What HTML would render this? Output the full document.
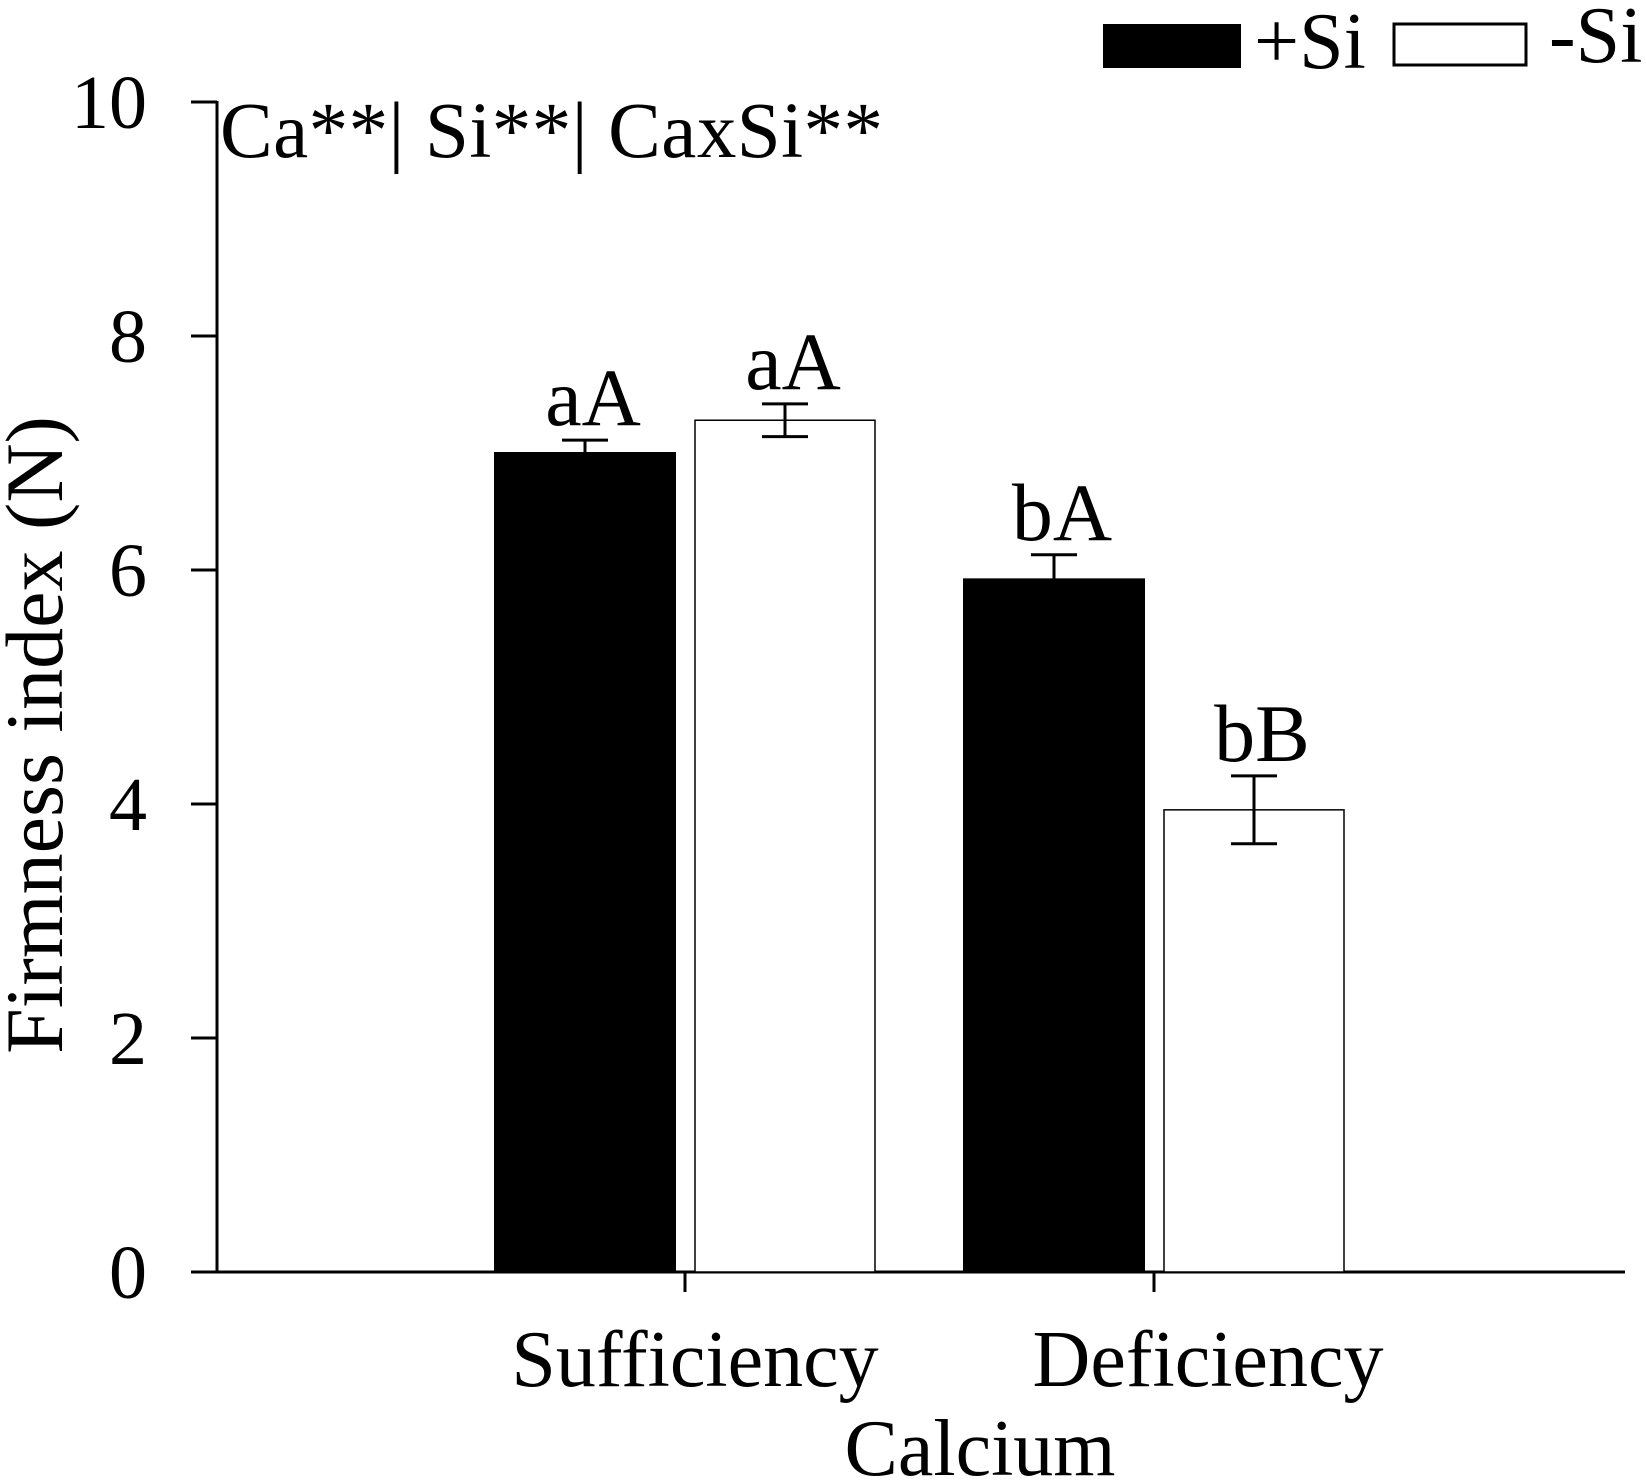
<!DOCTYPE html>
<html><head><meta charset="utf-8"><style>
body{margin:0;background:#fff;}
svg{display:block;font-family:"Liberation Serif",serif;}
</style></head><body>
<svg id="chart" width="1646" height="1484" viewBox="0 0 1646 1484">
<g id="g"></g>
<text x="220" y="157" font-size="79" textLength="663">Ca**| Si**| CaxSi**</text>
<text transform="translate(62,735) rotate(-90)" text-anchor="middle" font-size="82">Firmness index (N)</text>
<text x="980" y="1475" text-anchor="middle" font-size="80">Calcium</text>
<g>
<rect x="1103" y="24" width="138" height="44" fill="#000"/>
<text x="1254" y="68" font-size="80">+Si</text>
<rect x="1394" y="24" width="132" height="41" fill="#fff" stroke="#000" stroke-width="3"/>
<text x="1549" y="62" font-size="80">-Si</text>
</g>
</svg>
<script>
const categories = ["Sufficiency","Deficiency"];
const seriesNames = ["+Si","-Si"];
const plusSi = [7.0, 5.92];
const minusSi = [7.28, 3.95];
const plusSiErr = [0.11, 0.21];
const minusSiErr = [0.14, 0.29];
const plusSiLetters = ["aA","bA"];
const minusSiLetters = ["aA","bB"];
const yTicks = [0,2,4,6,8,10];

const NS="http://www.w3.org/2000/svg";
const g=document.getElementById('g');
const X0=217, Y0=1272, Y10=102;
function y(v){return Y0-(v/10)*(Y0-Y10);}
const groupCenters=[685,1154];
const barW=180, gap=20;
function barX(gi,si){return groupCenters[gi]+(si===0?-(barW+gap/2):gap/2);}
function el(tag,attrs,text){const e=document.createElementNS(NS,tag);for(const k in attrs)e.setAttribute(k,attrs[k]);if(text!==undefined)e.textContent=text;g.appendChild(e);return e;}

let a=el('line',{x1:X0,y1:Y10-1,x2:X0,y2:Y0,stroke:'#000','stroke-width':3});


a=el('line',{x1:191,y1:Y0,x2:1625,y2:Y0,stroke:'#000','stroke-width':3});



yTicks.forEach(t=>{
  const l=el('line',{x1:191,y1:y(t),x2:X0,y2:y(t),stroke:'#000','stroke-width':3});
  
  
  const tx=el('text',{x:147,y:y(t)+26,'text-anchor':'end','font-size':76},String(t));
  
  
});

const series=[plusSi,minusSi], errs=[plusSiErr,minusSiErr], letters=[plusSiLetters,minusSiLetters];
categories.forEach((c,gi)=>{
  const tk=el('line',{x1:groupCenters[gi],y1:Y0,x2:groupCenters[gi],y2:1292,stroke:'#000','stroke-width':3});
  
  
  const lb=el('text',{x:groupCenters[gi]+(gi===0?10:54),y:1386,'text-anchor':'middle','font-size':80},c);
  
  
  for(let si=0;si<2;si++){
    const v=series[si][gi], e=errs[si][gi], x=barX(gi,si);
    const r=el('rect',{x:x,y:y(v),width:barW,height:Y0-y(v),fill:si===0?'#000':'#fff',stroke:'#000','stroke-width':si===0?2:1.5});
    
    
    const cx=x+barW/2, lo=si===0?v:v-e, hi=v+e;
    const ev=el('path',{d:`M${cx} ${y(lo)}V${y(hi)}M${cx-23} ${y(hi)}H${cx+23}`+(si===1?`M${cx-23} ${y(lo)}H${cx+23}`:''),stroke:'#000','stroke-width':3,fill:'none'});
    
    
    const lt=el('text',{x:cx+8,y:y(hi)-15,'text-anchor':'middle','font-size':82},letters[si][gi]);
    
    
  }
});
</script>
</body></html>
